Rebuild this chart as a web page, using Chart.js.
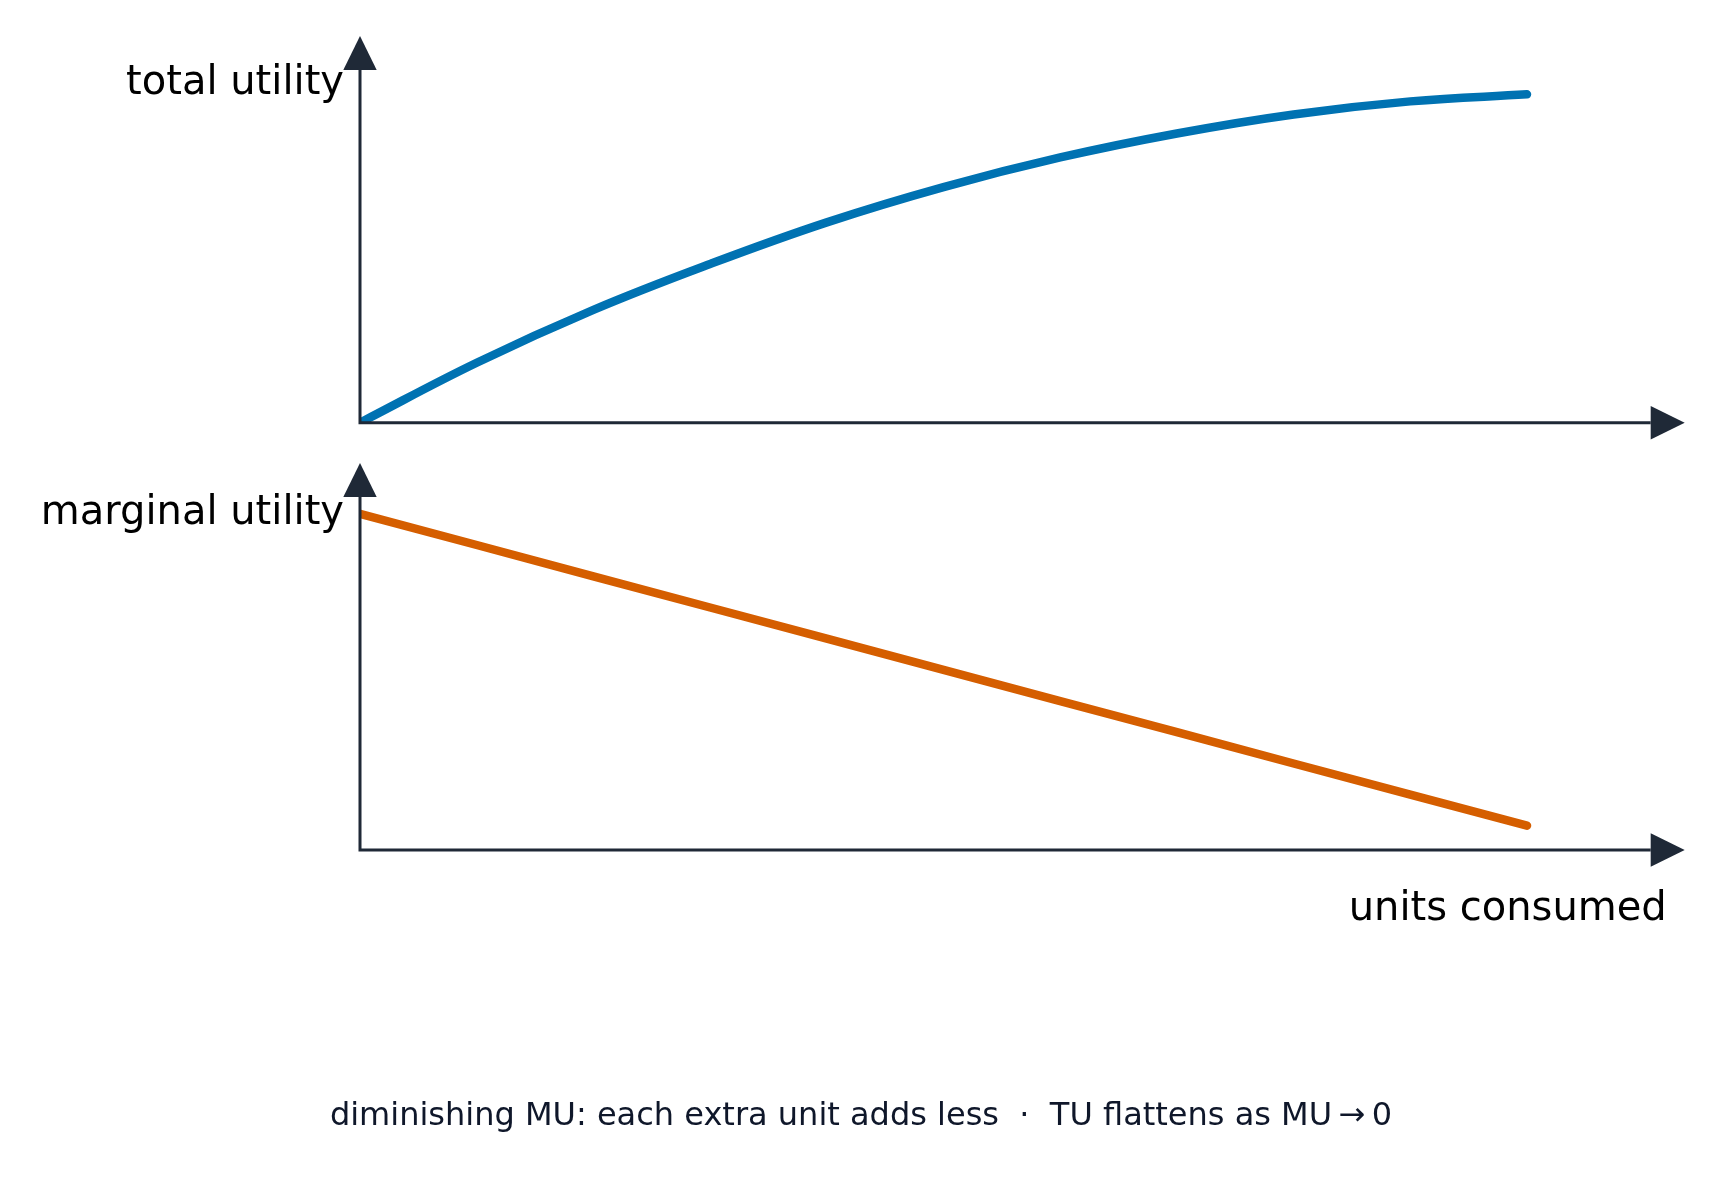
<!DOCTYPE html>
<html>
<head>
<meta charset="utf-8">
<title>Total and marginal utility</title>
<script src="https://cdn.jsdelivr.net/npm/chart.js@4.4.1/dist/chart.umd.min.js"></script>
<style>
  html, body { margin: 0; padding: 0; background: #ffffff; }
  body { width: 1722px; height: 1178px; position: relative; overflow: hidden; }
  .panel { position: absolute; left: 0; width: 1722px; }
  #topPanel { top: 0; height: 460px; }
  #bottomPanel { top: 440px; height: 738px; }
</style>
</head>
<body>
<div class="panel" id="topPanel"><canvas id="tuChart"></canvas></div>
<div class="panel" id="bottomPanel"><canvas id="muChart"></canvas></div>
<script>
// units consumed (x)
const units = [0, 1, 2, 3, 4, 5, 6, 7, 8, 9, 10];
// total utility, share of the axis height (0-100)
const totalUtility = [0, 17.0, 32.0, 45.0, 56.8, 66.8, 75.2, 82.0, 87.4, 91.1, 93.1];
// marginal utility, share of the axis height (0-100)
const marginalUtility = [95.2, 86.4, 77.5, 68.7, 59.9, 51.0, 42.2, 33.4, 24.5, 15.7, 6.9];

const axisColor = "#1f2937";
const fontFamily = "'DejaVu Sans', sans-serif";

// draws the arrowed axes and the labels around the chart area
const arrowAxes = {
  id: "arrowAxes",
  afterDatasetsDraw(chart, args, opts) {
    const { ctx, chartArea } = chart;
    const { left, right, top, bottom } = chartArea;
    const head = 34, half = 16.7;
    ctx.save();
    ctx.strokeStyle = axisColor;
    ctx.fillStyle = axisColor;
    ctx.lineWidth = 3;
    ctx.lineCap = "butt";
    ctx.beginPath();
    ctx.moveTo(left, top);
    ctx.lineTo(left, bottom);
    ctx.lineTo(right, bottom);
    ctx.stroke();
    // y arrow
    ctx.beginPath();
    ctx.moveTo(left - half, top);
    ctx.lineTo(left + half, top);
    ctx.lineTo(left, top - head);
    ctx.closePath();
    ctx.fill();
    // x arrow
    ctx.beginPath();
    ctx.moveTo(right, bottom - half);
    ctx.lineTo(right, bottom + half);
    ctx.lineTo(right + head, bottom);
    ctx.closePath();
    ctx.fill();

    ctx.fillStyle = "#000000";
    ctx.font = "40px " + fontFamily;
    ctx.textBaseline = "alphabetic";
    ctx.textAlign = "right";
    ctx.fillText(opts.yLabel, left - 16, top + opts.yLabelOffset);
    if (opts.xLabel) {
      ctx.fillText(opts.xLabel, right + 16, bottom + 70);
    }
    if (opts.caption) {
      ctx.fillStyle = "#0f172a";
      ctx.font = "32px " + fontFamily;
      ctx.textAlign = "center";
      ctx.fillText(opts.caption, chart.width / 2, bottom + 275);
    }
    ctx.restore();
  }
};

function panelOptions(pad, axisOpts) {
  return {
    responsive: true,
    maintainAspectRatio: false,
    animation: false,
    layout: { padding: pad },
    plugins: {
      legend: { display: false },
      tooltip: { enabled: false },
      arrowAxes: axisOpts
    },
    scales: {
      x: { type: "linear", min: 0, max: 11.06, display: false },
      y: { min: 0, max: 100, display: false }
    }
  };
}

new Chart("tuChart", {
  type: "line",
  data: {
    labels: units,
    datasets: [{
      label: "total utility",
      data: units.map((u, i) => ({ x: u, y: totalUtility[i] })),
      borderColor: "#0072b2",
      borderWidth: 8.5,
      borderCapStyle: "round",
      pointRadius: 0,
      tension: 0.4,
      fill: false
    }]
  },
  options: panelOptions(
    { top: 70, bottom: 37.3, left: 360, right: 71.3 },
    { yLabel: "total utility", yLabelOffset: 23.5 }
  ),
  plugins: [arrowAxes]
});

new Chart("muChart", {
  type: "line",
  data: {
    labels: units,
    datasets: [{
      label: "marginal utility",
      data: units.map((u, i) => ({ x: u, y: marginalUtility[i] })),
      borderColor: "#d55e00",
      borderWidth: 8.5,
      borderCapStyle: "round",
      pointRadius: 0,
      tension: 0,
      fill: false
    }]
  },
  options: panelOptions(
    { top: 57, bottom: 328, left: 360, right: 71.3 },
    {
      yLabel: "marginal utility",
      yLabelOffset: 27,
      xLabel: "units consumed",
      caption: "diminishing MU: each extra unit adds less  \u00b7  TU flattens as MU\u2009\u2192\u20090"
    }
  ),
  plugins: [arrowAxes]
});
</script>
</body>
</html>
